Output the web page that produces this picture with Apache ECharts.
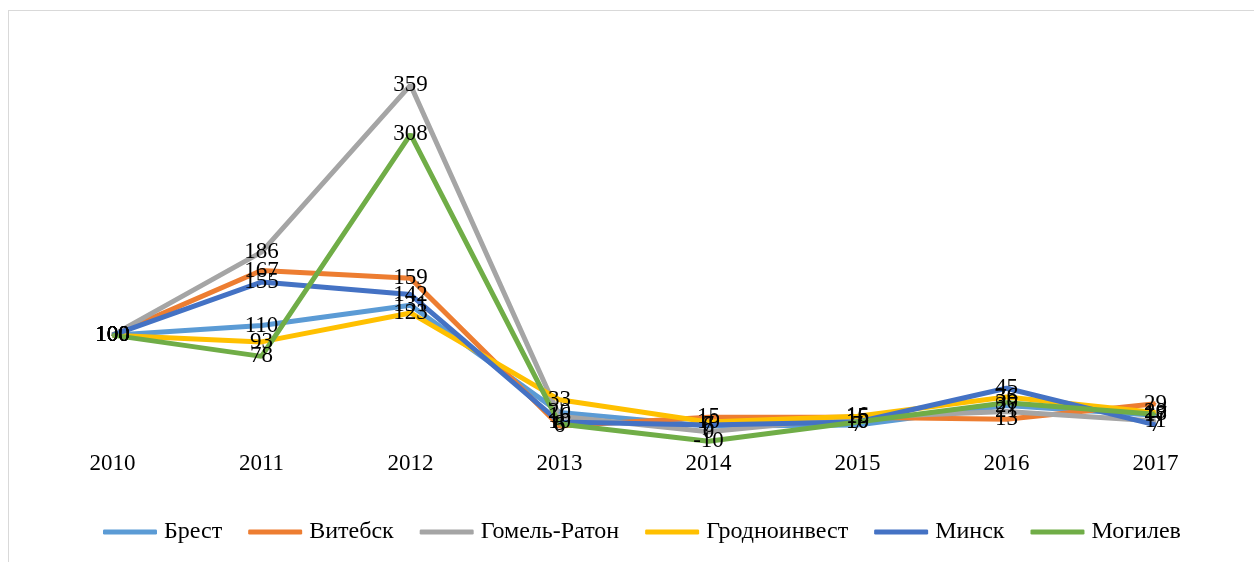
<!DOCTYPE html>
<html>
<head>
<meta charset="utf-8">
<script src="https://cdn.jsdelivr.net/npm/echarts@6/dist/echarts.min.js"></script>
<style>
	html, body { margin: 0; padding: 0; background: #fff; }
	#frame { position: absolute; left: 8px; top: 10px; width: 1260px; height: 560px; border: 1px solid #d9d9d9; }
	#main { position: absolute; left: 0; top: 0; width: 1254px; height: 562px; }
</style>
</head>
<body>
<div id="frame"></div>
<div id="main"></div>
<script>
// годы
var years = ['2010', '2011', '2012', '2013', '2014', '2015', '2016', '2017'];
// значения по городам
var brest = [100, 110, 131, 20, 6, 7, 27, 17];
var vitebsk = [100, 167, 159, 6, 15, 15, 13, 29];
var gomel = [100, 186, 359, 16, 0, 15, 21, 11];
var grodno = [100, 93, 123, 33, 10, 16, 36, 20];
var minsk = [100, 155, 142, 10, 7, 10, 45, 7];
var mogilev = [100, 78, 308, 8, -10, 10, 30, 18];

var names = ['Брест', 'Витебск', 'Гомель-Ратон', 'Гродноинвест', 'Минск', 'Могилев'];
var colors = ['#5B9BD5', '#ED7D31', '#A5A5A5', '#FFC000', '#4472C4', '#70AD47'];
var values = [brest, vitebsk, gomel, grodno, minsk, mogilev];

var myChart = echarts.init(document.getElementById('main'));

var series = [];
for (var i = 0; i < names.length; i++) {
	series.push({
		name : names[i],
		type : 'line',
		data : values[i],
		symbol : 'circle',
		symbolSize : 2,
		showSymbol : true,
		color : colors[i],
		itemStyle : {
			color : colors[i]
		},
		lineStyle : {
			color : colors[i],
			width : 5
		},
		label : {
			show : true,
			position : 'inside',
			color : '#000',
			fontFamily : 'Liberation Serif',
			fontSize : 23
		},
		labelLayout : { hideOverlap : false }
	});
}

var option = {
	animation : false,
	textStyle : {
		fontFamily : 'Liberation Serif'
	},
	grid : {
		left : 38,
		right : 24,
		top : 45.5,
		bottom : 111
	},
	legend : {
		bottom : 13,
		left : 98,
		itemWidth : 54,
		itemHeight : 5,
		itemGap : 26,
		icon : 'roundRect',
		textStyle : {
			color : '#000',
			fontFamily : 'Liberation Serif',
			fontSize : 24,
			padding : [0, 0, 0, 2]
		},
		data : names
	},
	xAxis : {
		type : 'category',
		data : years,
		boundaryGap : true,
		axisLine : { show : false },
		axisTick : { show : false },
		axisLabel : {
			margin : 1,
			color : '#000',
			fontFamily : 'Liberation Serif',
			fontSize : 23
		}
	},
	yAxis : {
		type : 'value',
		show : false,
		min : -20,
		max : 400,
		splitLine : { show : false }
	},
	series : series
};
myChart.setOption(option);
</script>
</body>
</html>
